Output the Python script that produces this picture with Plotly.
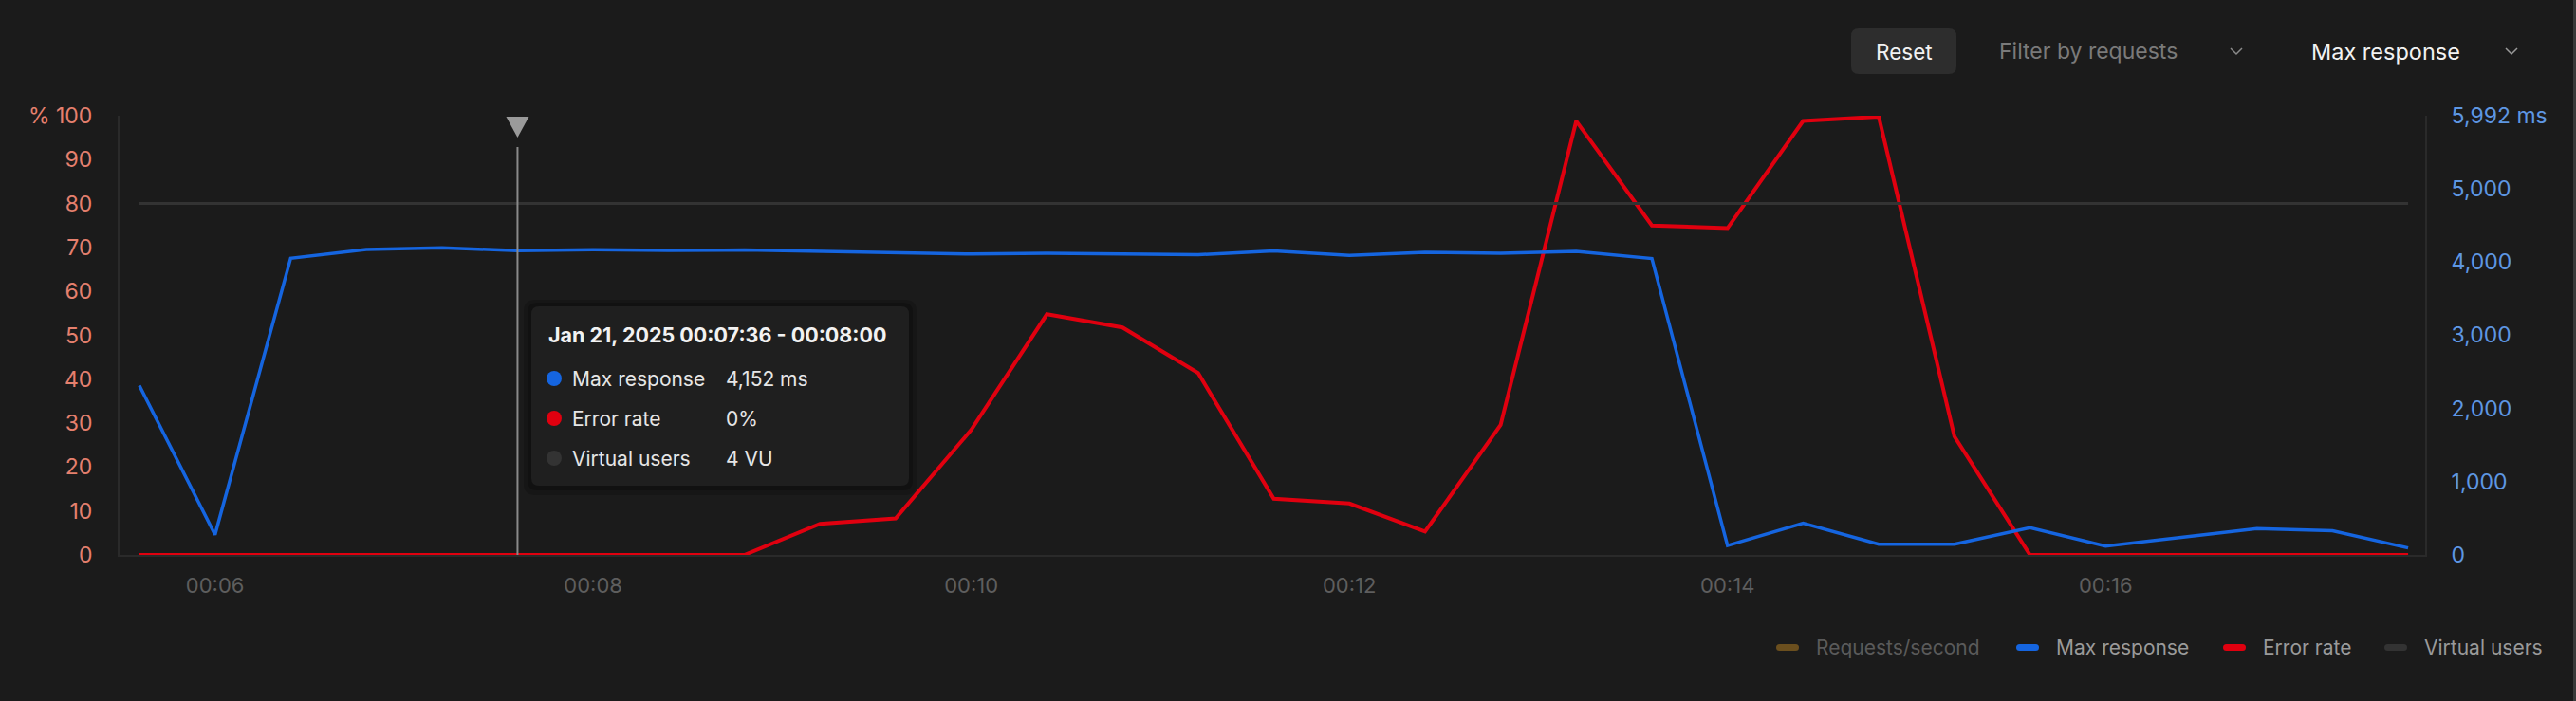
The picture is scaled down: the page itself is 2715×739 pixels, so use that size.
import plotly.graph_objects as go

W, H = 2715, 739

# ---------------- data ----------------
times = [
    "2025-01-21 00:05:36", "2025-01-21 00:06:00", "2025-01-21 00:06:24", "2025-01-21 00:06:48",
    "2025-01-21 00:07:12", "2025-01-21 00:07:36", "2025-01-21 00:08:00", "2025-01-21 00:08:24",
    "2025-01-21 00:08:48", "2025-01-21 00:09:12", "2025-01-21 00:09:36", "2025-01-21 00:10:00",
    "2025-01-21 00:10:24", "2025-01-21 00:10:48", "2025-01-21 00:11:12", "2025-01-21 00:11:36",
    "2025-01-21 00:12:00", "2025-01-21 00:12:24", "2025-01-21 00:12:48", "2025-01-21 00:13:12",
    "2025-01-21 00:13:36", "2025-01-21 00:14:00", "2025-01-21 00:14:24", "2025-01-21 00:14:48",
    "2025-01-21 00:15:12", "2025-01-21 00:15:36", "2025-01-21 00:16:00", "2025-01-21 00:16:24",
    "2025-01-21 00:16:48", "2025-01-21 00:17:12", "2025-01-21 00:17:36",
]
max_response_ms = [2309, 276, 4047, 4167, 4189, 4152, 4163, 4155, 4160, 4145, 4130, 4105,
                   4115, 4105, 4095, 4147, 4086, 4129, 4116, 4142, 4043, 128, 432, 147,
                   147, 372, 119, 240, 359, 329, 95]
error_rate_pct = [0, 0, 0, 0, 0, 0, 0, 0, 0, 7.1, 8.3, 28.5, 54.8, 51.8, 41.4, 12.8,
                  11.7, 5.3, 29.6, 98.8, 75.0, 74.4, 98.8, 99.8, 27.0, 0, 0, 0, 0, 0, 0]
virtual_users = [4] * 31

x_tick_vals = ["2025-01-21 00:06:00", "2025-01-21 00:08:00", "2025-01-21 00:10:00",
               "2025-01-21 00:12:00", "2025-01-21 00:14:00", "2025-01-21 00:16:00"]
x_tick_text = ["00:06", "00:08", "00:10", "00:12", "00:14", "00:16"]
left_tick_vals = [0, 10, 20, 30, 40, 50, 60, 70, 80, 90, 100]
left_tick_text = ["0", "10", "20", "30", "40", "50", "60", "70", "80", "90", "% 100"]
right_tick_vals = [0, 1000, 2000, 3000, 4000, 5000, 5992]
right_tick_text = ["0", "1,000", "2,000", "3,000", "4,000", "5,000", "5,992 ms"]

hover_time = "2025-01-21 00:07:36"
tooltip_title = "Jan 21, 2025 00:07:36 - 00:08:00"
tooltip_rows = [("Max response", "4,152 ms", "#1565e0"),
                ("Error rate", "0%", "#e0000f"),
                ("Virtual users", "4 VU", "#333333")]
legend_items = [("Requests/second", "#6b4f1e", "#5a5a5a"),
                ("Max response", "#1565e0", "#9a9a9a"),
                ("Error rate", "#e0000f", "#9a9a9a"),
                ("Virtual users", "#333333", "#9a9a9a")]

BG = "#1b1b1b"
BLUE = "#1565e0"
RED = "#e0000f"
UI_FONT = "Inter"

# ---------------- figure ----------------
fig = go.Figure()
fig.add_trace(go.Scatter(x=times, y=virtual_users, yaxis="y3", mode="lines",
                         line=dict(color="#333333", width=3), showlegend=False, hoverinfo="skip"))
fig.add_trace(go.Scatter(x=times, y=max_response_ms, yaxis="y2", mode="lines",
                         line=dict(color=BLUE, width=3.5), showlegend=False, hoverinfo="skip"))
fig.add_trace(go.Scatter(x=times, y=error_rate_pct, yaxis="y", mode="lines",
                         line=dict(color=RED, width=4), showlegend=False, hoverinfo="skip"))


def px(x):
    return x / W


def py(y):
    return 1 - y / H


x_dom = [px(126), px(2556)]
y_dom = [py(585), py(122)]

axis_line = "#2a2a2a"
fig.update_layout(
    width=W, height=H, autosize=False,
    margin=dict(l=0, r=0, t=0, b=0, pad=0, autoexpand=False),
    paper_bgcolor=BG, plot_bgcolor=BG,
    hovermode=False,
    showlegend=False,
    font=dict(family=UI_FONT),
    xaxis=dict(domain=x_dom, type="date",
               range=["2025-01-21 00:05:29.7", "2025-01-21 00:17:41.4"],
               tickvals=x_tick_vals, ticktext=x_tick_text,
               tickfont=dict(color="#5e5e5e", size=22, family=UI_FONT),
               showgrid=False, zeroline=False, showline=True, linecolor=axis_line,
               linewidth=2, ticks="", ticklabelstandoff=12),
    yaxis=dict(domain=y_dom, range=[0, 100], tickvals=left_tick_vals, ticktext=left_tick_text,
               tickfont=dict(color="#e5806e", size=23, family=UI_FONT),
               showgrid=False, zeroline=False, showline=True, linecolor=axis_line,
               linewidth=2, ticks="", ticklabelstandoff=22),
    yaxis2=dict(domain=y_dom, range=[0, 5992], overlaying="y", side="right",
                tickvals=right_tick_vals, ticktext=right_tick_text,
                tickfont=dict(color="#5e97e3", size=23, family=UI_FONT),
                showgrid=False, zeroline=False, showline=True, linecolor=axis_line,
                linewidth=2, ticks="", ticklabelstandoff=21),
    yaxis3=dict(domain=y_dom, range=[0, 5], overlaying="y", visible=False),
)


def rrect_path(x0, y0, x1, y1, r):
    Y0, Y1 = H - y0, H - y1
    return (f"M {x0 + r},{Y0} L {x1 - r},{Y0} Q {x1},{Y0} {x1},{Y0 - r} "
            f"L {x1},{Y1 + r} Q {x1},{Y1} {x1 - r},{Y1} L {x0 + r},{Y1} "
            f"Q {x0},{Y1} {x0},{Y1 + r} L {x0},{Y0 - r} Q {x0},{Y0} {x0 + r},{Y0} Z")


def pix_shape(path, fill=None, line_color=None, line_width=0, layer="above"):
    d = dict(type="path", path=path, xref="paper", yref="paper",
             xsizemode="pixel", ysizemode="pixel", xanchor=0, yanchor=0, layer=layer,
             line=dict(width=line_width, color=line_color or "rgba(0,0,0,0)"))
    if fill:
        d["fillcolor"] = fill
    fig.add_shape(**d)


def text(x, y, s, color, size=22, xanchor="left", bold=False):
    fig.add_annotation(x=px(x), y=py(y), xref="paper", yref="paper", text=(f"<b>{s}</b>" if bold else s),
                       showarrow=False, xanchor=xanchor, yanchor="middle",
                       font=dict(family=UI_FONT, size=size, color=color))


# crosshair
fig.add_shape(type="line", xref="x", yref="paper", x0=hover_time, x1=hover_time,
              y0=py(585), y1=py(155), line=dict(color="#8a8a8a", width=2), layer="above")
fig.add_shape(type="path", xref="x", yref="paper", xsizemode="pixel", ysizemode="pixel",
              xanchor=hover_time, yanchor=py(134), path="M -12,11 L 12,11 L 0,-11 Z",
              fillcolor="#9a9a9a", line=dict(width=0))

# tooltip
pix_shape(rrect_path(552, 316, 966, 522, 12), fill="rgba(0,0,0,0.18)")
pix_shape(rrect_path(556, 319, 962, 517, 10), fill="rgba(0,0,0,0.22)")
pix_shape(rrect_path(560, 323, 958, 512, 8), fill="#1f1f1f")
text(576, 353, tooltip_title, "#f2f2f2", size=21.5, bold=True)
for i, (lab, val, col) in enumerate(tooltip_rows):
    yy = 399 + 42 * i
    fig.add_shape(type="circle", xref="paper", yref="paper", xsizemode="pixel", ysizemode="pixel",
                  xanchor=0, yanchor=0, x0=576, x1=592, y0=H - yy - 8, y1=H - yy + 8,
                  fillcolor=col, line=dict(width=0))
    text(601, yy, lab, "#e6e6e6", size=21)
    text(763, yy, val, "#e6e6e6", size=21)

# top controls
pix_shape(rrect_path(1951, 30, 2062, 78, 8), fill="#2d2d2d")
text(2006.5, 54, "Reset", "#f2f2f2", size=22.5, xanchor="center")
text(2105, 54, "Filter by requests", "#7a7a7a", size=23)
pix_shape(f"M 2351,{H - 51} L 2357,{H - 57} L 2363,{H - 51}", line_color="#8a8a8a", line_width=1.5)
text(2434, 54, "Max response", "#f2f2f2", size=23.5)
pix_shape(f"M 2641,{H - 51} L 2647,{H - 57} L 2653,{H - 51}", line_color="#9a9a9a", line_width=1.5)

# legend
leg_x = [(1872, 1912), (2125, 2165), (2343, 2383), (2513, 2553)]
for (lab, swc, tc), (sx, tx) in zip(legend_items, leg_x):
    pix_shape(rrect_path(sx, 679, sx + 24, 686, 3.5), fill=swc)
    text(tx, 682, lab, tc, size=21)

# right page edge
fig.add_shape(type="line", xref="paper", yref="paper", x0=px(2713.5), x1=px(2713.5), y0=0, y1=1,
              line=dict(color="#3a3a3a", width=3))

fig.write_html(
    "out.html",
    config={"responsive": False, "displayModeBar": False},
    post_script="document.body.style.margin='0';document.body.style.overflow='hidden';"
                "document.body.style.background='#1b1b1b';",
)
